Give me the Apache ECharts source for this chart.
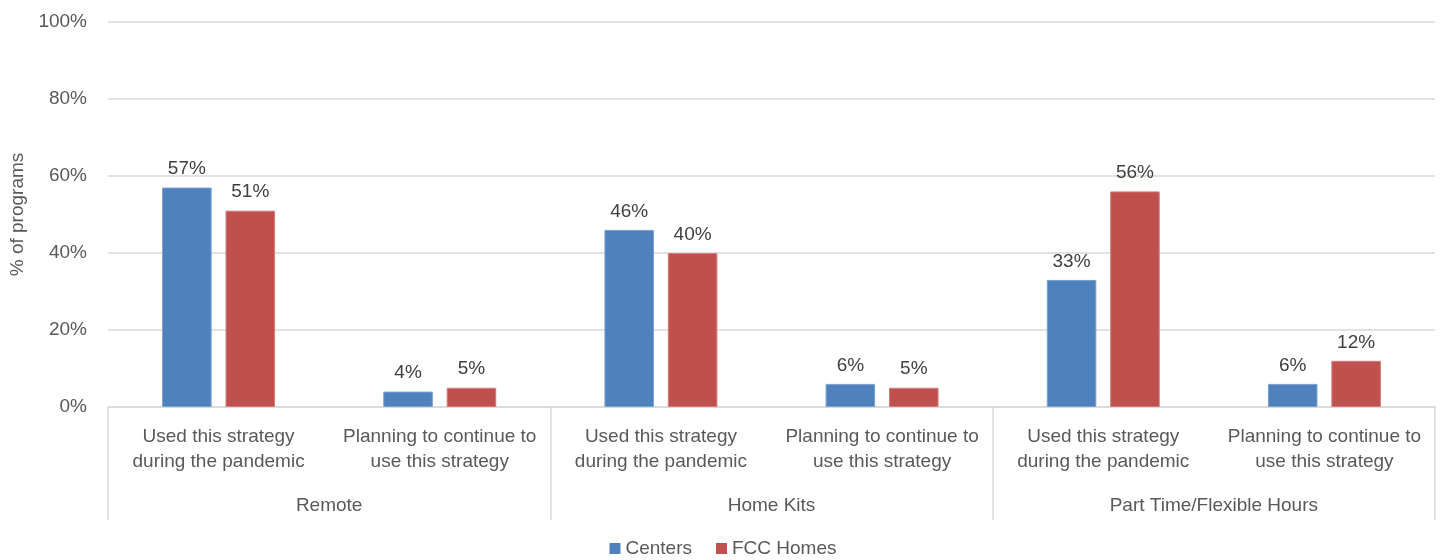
<!DOCTYPE html>
<html>
<head>
<meta charset="utf-8">
<script src="https://cdn.jsdelivr.net/npm/echarts@6/dist/echarts.min.js"></script>
<style>
  html, body { margin: 0; padding: 0; background: #ffffff; }
  #chart { width: 1446px; height: 560px; }
</style>
</head>
<body>
<div id="chart"></div>
<script>
// Strategy categories (inner axis) and their groups (outer axis)
const strategies = [
  'Used this strategy\nduring the pandemic',
  'Planning to continue to\nuse this strategy',
  'Used this strategy\nduring the pandemic',
  'Planning to continue to\nuse this strategy',
  'Used this strategy\nduring the pandemic',
  'Planning to continue to\nuse this strategy'
];
const groups = ['Remote', 'Home Kits', 'Part Time/Flexible Hours'];

// Share of programs, in percent
const centers = [57, 4, 46, 6, 33, 6];
const fccHomes = [51, 5, 40, 5, 56, 12];

const FONT = 'Liberation Sans';
const TEXT = '#595959';
const LINE = '#d9d9d9';
const FS = 19;

const chart = echarts.init(document.getElementById('chart'));

const labelStyle = {
  show: true,
  position: 'top',
  distance: 9,
  formatter: p => p.value + '%',
  fontFamily: FONT,
  fontSize: FS,
  color: '#404040'
};

chart.setOption({
  animation: false,
  textStyle: { fontFamily: FONT },
  grid: { left: 108, right: 11, top: 22, bottom: 153, containLabel: false },
  legend: {
    top: 539,
    left: 'center',
    padding: 0,
    itemWidth: 11,
    itemHeight: 11,
    itemGap: 24,
    icon: 'rect',
    itemStyle: { borderWidth: 0 },
    textStyle: { fontFamily: FONT, fontSize: FS, color: TEXT },
    data: ['Centers', 'FCC Homes']
  },
  xAxis: [
    {
      type: 'category',
      data: strategies,
      position: 'bottom',
      axisLine: { show: true, lineStyle: { color: LINE, width: 1.5 } },
      axisTick: { show: false },
      axisLabel: {
        interval: 0,
        margin: 17,
        fontFamily: FONT,
        fontSize: FS,
        lineHeight: 25,
        color: TEXT
      }
    },
    {
      type: 'category',
      data: groups,
      position: 'bottom',
      axisLine: { show: false },
      axisTick: { show: true, length: 113, lineStyle: { color: LINE, width: 1.5 } },
      axisLabel: {
        interval: 0,
        margin: 89,
        fontFamily: FONT,
        fontSize: FS,
        color: TEXT
      }
    }
  ],
  yAxis: {
    type: 'value',
    min: 0,
    max: 100,
    interval: 20,
    name: '% of programs',
    nameLocation: 'middle',
    nameGap: 78,
    nameTextStyle: { fontFamily: FONT, fontSize: FS, color: TEXT },
    axisLine: { show: false },
    axisTick: { show: false },
    axisLabel: {
      formatter: '{value}%',
      margin: 21,
      fontFamily: FONT,
      fontSize: FS,
      color: TEXT
    },
    splitLine: { lineStyle: { color: LINE, width: 1.5 } }
  },
  series: [
    {
      name: 'Centers',
      type: 'bar',
      data: centers,
      barWidth: '22.4%',
      barGap: '28%',
      itemStyle: { color: '#4F81BD', borderColor: '#7aa0d0', borderWidth: 1 },
      label: labelStyle
    },
    {
      name: 'FCC Homes',
      type: 'bar',
      data: fccHomes,
      barWidth: '22.4%',
      barGap: '28%',
      itemStyle: { color: '#C0504D', borderColor: '#d47c7a', borderWidth: 1 },
      label: labelStyle
    }
  ]
});
</script>
</body>
</html>
